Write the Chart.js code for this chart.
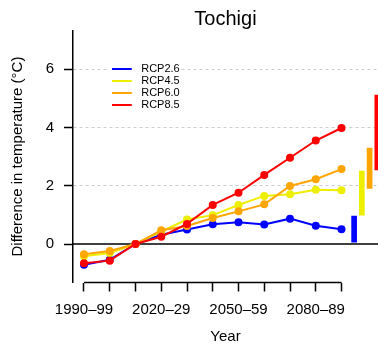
<!DOCTYPE html>
<html><head><meta charset="utf-8">
<script src="https://cdn.jsdelivr.net/npm/chart.js@4/dist/chart.umd.min.js"></script>
<style>html,body{margin:0;padding:0;background:#fff;overflow:hidden}#wrap{width:378px;height:349px}</style>
</head><body><div id="wrap"><canvas id="c" width="378" height="349"></canvas></div>
<script>
// ---- data ----
const decades = ['1990–99','2000–09','2010–19','2020–29','2030–39','2040–49','2050–59','2060–69','2070–79','2080–89','2090–99'];
const labelEvery = 3;
const seriesNames = ['RCP2.6','RCP4.5','RCP6.0','RCP8.5'];
const rcp26 = [-0.71, -0.54, 0, 0.32, 0.50, 0.68, 0.75, 0.67, 0.87, 0.63, 0.51];
const rcp45 = [-0.42, -0.31, 0, 0.43, 0.84, 0.99, 1.34, 1.65, 1.71, 1.86, 1.84];
const rcp60 = [-0.35, -0.24, 0, 0.47, 0.62, 0.89, 1.12, 1.36, 1.99, 2.22, 2.57];
const rcp85 = [-0.66, -0.57, 0, 0.25, 0.69, 1.34, 1.76, 2.37, 2.96, 3.55, 3.98];
const rangeLow  = [0.06, 0.99, 1.91, 2.54];
const rangeHigh = [0.96, 2.50, 3.29, 5.11];
const yTicks = [0, 2, 4, 6];

// ---- styles ----
const colors = ['#0000FF', '#EEEE00', '#FFA500', '#FF0000'];
const FONT = "'Liberation Sans', Arial, Helvetica, sans-serif";
Chart.defaults.font.family = FONT;
Chart.defaults.color = '#000';

const seriesValues = [rcp26, rcp45, rcp60, rcp85];

function swatch(color) {
  const cv = document.createElement('canvas');
  cv.width = 24; cv.height = 2;
  const c = cv.getContext('2d');
  c.fillStyle = color || '#000';
  c.fillRect(0, 0, 20, 2);
  return cv;
}

const lineSets = seriesNames.map((name, k) => ({
  label: name,
  data: seriesValues[k].map((v, i) => ({x: i, y: v})),
  borderColor: colors[k],
  backgroundColor: colors[k],
  pointBackgroundColor: colors[k],
  pointBorderColor: colors[k],
  pointRadius: 4,
  pointBorderWidth: 0,
  borderWidth: 2,
  tension: 0,
  order: 4 - k
}));

const lastIdx = decades.length - 1;
const barSet = {
  type: 'bar',
  label: 'range',
  data: rangeLow.map((lo, k) => ({x: lastIdx + 0.49 + 0.30 * k, y: [lo, rangeHigh[k]]})),
  backgroundColor: colors,
  borderWidth: 0,
  barThickness: 5,
  order: 5
};

const helper = {
  id: 'helper',
  afterInit(chart) {
    const lg = chart.legend;
    const orig = lg.draw.bind(lg);
    lg.draw = function (ca) {
      const c = this.ctx;
      c.save();
      c.fillStyle = '#fff';
      c.fillRect(this.left - 2, this.top, 72, 50);
      c.restore();
      orig(ca);
    };
  },
  afterLayout(chart) {
    const lg = chart.legend, ca = chart.chartArea;
    lg.left = ca.left + 37.7;
    lg.top = ca.top + 32;
    lg.height = 50;
    lg.right = lg.left + lg.width;
    lg.bottom = lg.top + 50;
  },
  beforeDatasetsDraw(chart) {
    const {ctx, chartArea, scales: {x, y}} = chart;
    ctx.save();
    ctx.strokeStyle = '#000';
    ctx.lineWidth = 1.5;
    const y0 = y.getPixelForValue(0);
    ctx.beginPath();
    ctx.moveTo(chartArea.left, y0);
    ctx.lineTo(chartArea.right, y0);
    ctx.stroke();
    const yb = chartArea.bottom;
    ctx.beginPath();
    ctx.moveTo(x.getPixelForValue(0), yb);
    ctx.lineTo(x.getPixelForValue(lastIdx), yb);
    ctx.stroke();
    ctx.restore();
  }
};

new Chart(document.getElementById('c'), {
  type: 'line',
  data: {datasets: [...lineSets, barSet]},
  plugins: [helper],
  options: {
    responsive: false,
    animation: false,
    devicePixelRatio: 1,
    layout: {padding: 0, autoPadding: false},
    plugins: {
      title: {
        display: true, text: 'Tochigi', fullSize: false, color: '#000',
        font: {size: 20, weight: 'normal', lineHeight: 1},
        padding: {top: 9.5, bottom: 1.1}
      },
      legend: {
        position: 'chartArea', align: 'start',
        labels: {
          color: '#000',
          font: {size: 11, lineHeight: 1},
          padding: 1,
          usePointStyle: true,
          pointStyleWidth: 24,
          boxHeight: 11,
          generateLabels(chart) {
            const items = Chart.defaults.plugins.legend.labels.generateLabels(chart);
            items.forEach(it => { it.pointStyle = swatch(chart.data.datasets[it.datasetIndex].borderColor); });
            return items;
          },
          filter: (it) => it.datasetIndex < seriesNames.length,
          sort: (a, b) => a.datasetIndex - b.datasetIndex
        }
      },
      tooltip: {enabled: false}
    },
    scales: {
      x: {
        type: 'linear', min: -0.427, max: 11.417, bounds: 'data', offset: false,
        afterBuildTicks: s => { s.ticks = decades.map((_, i) => ({value: i})); },
        afterFit: s => { s.height = 66.5; },
        ticks: {
          autoSkip: false, maxRotation: 0, minRotation: 0, padding: 9, color: '#000',
          font: {size: 15},
          callback: (v) => (v % labelEvery === 0 ? decades[v] : '')
        },
        grid: {offset: false, drawOnChartArea: false, drawTicks: true, tickLength: 9, tickColor: '#000', tickWidth: 1.5, color: '#000'},
        border: {display: false},
        title: {display: true, text: 'Year', color: '#000', font: {size: 15}, padding: {top: 0, bottom: 3}}
      },
      y: {
        type: 'linear', min: -1.32, max: 7.32, bounds: 'data', beginAtZero: false,
        afterBuildTicks: s => { s.ticks = yTicks.map(v => ({value: v})); },
        afterFit: s => { s.width = 73; },
        ticks: {padding: 10, color: '#000', font: {size: 15}, callback: v => String(v)},
        grid: {
          color: c => (c.tick && c.tick.value === 0 ? 'rgba(0,0,0,0)' : '#cccccc'),
          lineWidth: 1, tickColor: '#000', tickWidth: 1.5, tickLength: 9, drawTicks: true
        },
        border: {display: true, color: '#000', width: 1.5, dash: [3, 3]},
        title: {display: true, text: 'Difference in temperature (°C)', color: '#000', font: {size: 15}, padding: {top: 9, bottom: 0}}
      }
    }
  }
});
</script>
</body></html>
